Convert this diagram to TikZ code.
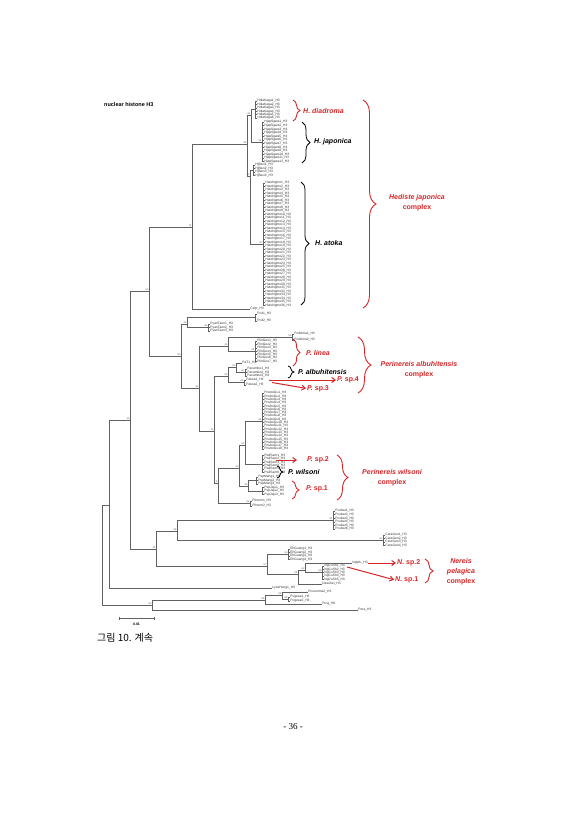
\documentclass[tikz,border=0pt]{standalone}
\usepackage{fontspec}
\setmainfont{Liberation Sans}
\newfontfamily\cjk{Noto Sans CJK KR}
\newfontfamily\pgserif{Liberation Serif}
\usetikzlibrary{decorations.pathreplacing,arrows.meta}
\definecolor{cred}{RGB}{214,38,40}
\tikzset{
  br/.style={draw=black!62, line width=0.45pt},
  leaf/.style={font=\fontsize{3.3}{3.4}\selectfont, inner sep=0.2pt, text=black!80},
  bs/.style={font=\fontsize{2.4}{2.6}\selectfont, inner sep=0.4pt, text=black!70},
  sp/.style={font=\fontsize{7}{8}\selectfont\bfseries\itshape, inner sep=0pt, anchor=west},
  cx/.style={font=\fontsize{7}{10}\selectfont\bfseries, inner sep=0pt, align=center, text=cred},
  rbr/.style={draw=cred, line width=0.9pt, decorate},
  kbr/.style={draw=black, line width=0.8pt, decorate},
  rar/.style={draw=cred, line width=1pt, shorten >=1pt, -{Straight Barb[length=3.5pt,width=5pt]}},
}
% #1 id, #2 x, #3 first y, #4 step, #5 count, #6 label prefix
\newcommand\leafset[6]{%
  \pgfmathsetmacro\lsEnd{#3+(#5-1)*#4}%
  \draw[br] (#2,#3) -- (#2,\lsEnd);%
  \coordinate (#1) at (#2,{(#3+\lsEnd)/2});%
  \foreach \k in {1,...,#5}{%
    \pgfmathsetmacro\lsY{#3+(\k-1)*#4}%
    \draw[br] (#2,\lsY) -- ++(2,0) node[leaf,anchor=west] (#1\k) {#6\k\_H3};%
  }%
}
\begin{document}
\begin{tikzpicture}[x=1pt,y=-1pt]
\fill[white] (0,0) rectangle (587,830);
\useasboundingbox (0,0) rectangle (587,830);

\node[font=\fontsize{5.5}{6}\selectfont\bfseries, anchor=west, inner sep=0pt] (title) at (104,105) {nuclear histone H3};

% internal nodes
\coordinate (r0) at (102,555);
\coordinate (n109) at (109,505);
\coordinate (n152) at (152,605);
\coordinate (n130) at (130,420);
\coordinate (n149) at (149,291);
\coordinate (n156) at (156,549);
\coordinate (n192) at (192,227);
\coordinate (n181) at (181,356);
\coordinate (n247) at (247,144);
\coordinate (n251) at (251,115);
\coordinate (n250) at (250,176);
\coordinate (n187) at (187,324);
\coordinate (n199) at (199,388);
\coordinate (n228a) at (228,346);
\coordinate (n214) at (214,431);
\coordinate (n228b) at (228,376);
\coordinate (n236) at (236,367);
\coordinate (n218) at (218,483);
\coordinate (n239) at (239,468);
\coordinate (n245) at (245,445);
\coordinate (n258) at (258,464);
\coordinate (n248) at (248,486);
\coordinate (n177) at (177,531);
\coordinate (n267) at (267,566);
\coordinate (n298) at (298,574);
\coordinate (n305) at (305,570);
\coordinate (n265) at (265,600);
\coordinate (n282) at (282,595);

% leaf sets
\leafset{dD}{255}{101}{3.4}{6}{HdiaKaga}
\leafset{dJ}{262}{122}{3.6}{12}{HjapSgwa}
\leafset{dB}{253}{165}{3.5}{4}{HjBaci}
\leafset{dA}{263}{183}{3.5}{36}{HatoNgmo}
\leafset{dPcd}{255}{314}{7}{2}{Pcd}
\leafset{dPy}{208}{324}{3.5}{3}{PyanTaen}
\leafset{dPa}{292}{334}{6}{2}{PcdAma}
\leafset{dPl}{255}{341}{3.4}{7}{PlinGeo}
\leafset{dPab}{245}{369}{3.5}{3}{Pacambo}
\leafset{dPs}{244}{380}{5}{2}{PaIwa}
\leafset{dBig}{262}{393}{3.3}{18}{PnuboGu}
\leafset{dW}{262}{455.5}{3.4}{6}{PwilSam}
\leafset{dSa}{256}{477}{3.4}{3}{PspMang}
\leafset{dSb}{262}{487.5}{3.4}{3}{PspJeju}
\leafset{dFr}{250}{501}{5}{2}{Pfrenm}
\leafset{dPo}{333}{511}{3.6}{6}{Pcubar}
\leafset{dCe}{383}{535}{3.5}{4}{CeraGeo}
\leafset{dEh}{288}{549}{3.5}{4}{EhGuang}
\leafset{dNe}{322}{566}{3.3}{5}{NgCuSh}
\leafset{dPc}{288}{597}{4}{2}{Pcgeae}

% branches
\draw[br] (r0) |- (n109);
\draw[br] (r0) |- (n152);
\draw[br] (n109) |- (n130);
\draw[br] (n109) |- (272,588) node[leaf,anchor=west] (lyca) {LycaHong1\_H3};
\draw[br] (n130) |- (n149);
\draw[br] (n130) |- (n156);
\draw[br] (n149) |- (n192);
\draw[br] (n149) |- (n181);
\draw[br] (n192) |- (n247);
\draw[br] (n192) |- (250,309) node[leaf,anchor=west] (cerp) {Cerp\_H3};
\draw[br] (n247) |- (n251);
\draw[br] (n247) |- (n250);
\draw[br] (n251) |- (dD);
\draw[br] (n251) |- (dJ);
\draw[br] (n250) |- (dB);
\draw[br] (n250) |- (dA);
\draw[br] (n181) |- (n187);
\draw[br] (n181) |- (n199);
\draw[br] (n187) |- (dPcd);
\draw[br] (n187) |- (dPy);
\draw[br] (n199) |- (n228a);
\draw[br] (n199) |- (n214);
\draw[br] (n228a) |- (dPa);
\draw[br] (n228a) |- (dPl);
\draw[br] (n214) |- (n228b);
\draw[br] (n214) |- (n218);
\draw[br] (n228b) |- (n236);
\draw[br] (n228b) |- (dPs);
\draw[br] (n236) |- (242,363) node[leaf,anchor=west] (pat1) {PaT1\_H3};
\draw[br] (n236) |- (dPab);
\draw[br] (n218) |- (n239);
\draw[br] (n218) |- (dFr);
\draw[br] (n239) |- (n245);
\draw[br] (n239) |- (n248);
\draw[br] (n245) |- (dBig);
\draw[br] (n245) |- (n258);
\draw[br] (n258) |- (dW);
\draw[br] (n248) |- (dSa);
\draw[br] (n248) |- (dSb);
\draw[br] (n156) |- (n177);
\draw[br] (n156) |- (n267);
\draw[br] (n177) |- (dPo);
\draw[br] (n177) |- (dCe);
\draw[br] (n267) |- (dEh);
\draw[br] (n267) |- (n298);
\draw[br] (n298) |- (n305);
\draw[br] (n298) |- (322,584) node[leaf,anchor=west] (nesu) {Nesuhei\_H3};
\draw[br] (n305) |- (352,563) node[leaf,anchor=west] (ngwu) {NgWu\_H3};
\draw[br] (n305) |- (dNe);
\draw[br] (n152) |- (n265);
\draw[br] (n152) |- (358,610) node[leaf,anchor=west] (pera) {Pera\_H3};
\draw[br] (n265) |- (n282);
\draw[br] (n265) |- (322,604) node[leaf,anchor=west] (prcg) {Prcg\_H0};
\draw[br] (n282) |- (308,592) node[leaf,anchor=west] (prcu) {Prcuonma2\_H3};
\draw[br] (n282) |- (dPc);

% bootstrap values
\foreach \c/\v in {n130/33, n149/50, n192/74, n181/60, n187/26, n199/34, n228a/43, n214/33,
  n218/9, n239/43, n245/21, n156/25, n177/58, n267/57, n152/83, n265/88, n282/88, n247/95,
  n251/64, n250/40, n228b/53, n236/53, n298/96, n305/63, n248/45, dPo/91, dCe/91, dBig/89,
  dPl/21, dPab/67, dPs/61, dA/97, dJ/61, dEh/63, dFr/92, dNe/99, dPc/88, dPy/84, dPa/93}
  \node[bs,anchor=south east] (bs-\c) at (\c) {\v};

% scale bar
\draw[br] (119,616.5) -- (119,619.5) (154,616.5) -- (154,619.5);
\draw[br] (119,618) -- (154,618);
\node[font=\fontsize{3.5}{4}\selectfont\bfseries, inner sep=0pt] (scl) at (136.5,624) {0.01};

% Hediste japonica complex
\draw[rbr, decoration={brace,amplitude=7pt}] (293,100) -- (293,121);
\node[sp, text=cred] (tdia) at (303,111) {H. diadroma};
\draw[kbr, decoration={brace,amplitude=8pt}] (302,122) -- (302,163);
\node[sp] (tjap) at (314,142) {H. japonica};
\draw[kbr, decoration={brace,amplitude=8pt}] (301,182) -- (301,305);
\node[sp] (tato) at (315,243) {H. atoka};
\draw[rbr, decoration={brace,amplitude=13pt}] (363,100) -- (363,308);
\node[cx] (cHed) at (417,203) {{\itshape Hediste japonica}\\complex};

% Perinereis albuhitensis complex
\draw[rbr, decoration={brace,amplitude=7pt}] (293,339) -- (293,366);
\node[sp, text=cred] (tlin) at (306,353) {P. linea};
\draw[kbr, decoration={brace,amplitude=6pt}] (288,366) -- (288,378);
\node[sp] (talb) at (298,372) {P. albuhitensis};
\coordinate (a4s) at (269,380);
\coordinate (a3s) at (272,382.5);
\node[sp, text=cred] (tsp4) at (337,380) {P. {\upshape sp.4}};
\node[sp, text=cred] (tsp3) at (307,388.5) {P. {\upshape sp.3}};
\draw[rar] (a4s) -- (tsp4.west);
\draw[rar] (a3s) -- (tsp3.west);
\draw[rbr, decoration={brace,amplitude=13pt}] (358,337) -- (358,393);
\node[cx] (cAlb) at (419,369.5) {{\itshape Perinereis albuhitensis}\\complex};

% Perinereis wilsoni complex
\coordinate (a2s) at (276,460);
\node[sp, text=cred] (tsp2) at (307,460) {P. {\upshape sp.2}};
\draw[rar] (a2s) -- ([xshift=-9pt]tsp2.west);
\draw[kbr, decoration={brace,amplitude=6pt}] (277,466) -- (277,478);
\node[sp] (twil) at (288,472) {P. wilsoni};
\draw[rbr, decoration={brace,amplitude=7pt}] (292,481) -- (292,499);
\node[sp, text=cred] (tsp1) at (306,489) {P. {\upshape sp.1}};
\draw[rbr, decoration={brace,amplitude=11pt}] (337,455) -- (337,500);
\node[cx] (cWil) at (392,477.5) {{\itshape Perinereis wilsoni}\\complex};

% Nereis pelagica complex
\node[sp, text=cred] (tns2) at (397,563) {N. {\upshape sp.2}};
\node[sp, text=cred] (tns1) at (395,580) {N. {\upshape sp.1}};
\draw[rar] (ngwu.east) -- (tns2.west);
\coordinate (a1s) at (347,567);
\draw[rar] (a1s) -- (tns1.west);
\draw[rbr, decoration={brace,amplitude=8pt}] (425,559) -- (425,583);
\node[cx] (cNer) at (461,572) {{\itshape Nereis}\\{\itshape pelagica}\\complex};

% caption and page number
\node[anchor=west, inner sep=0pt, font=\cjk\fontsize{10}{12}\selectfont] (cap) at (97,638) {그림 10. 계속};
\node[inner sep=0pt, font=\pgserif\fontsize{9}{11}\selectfont] (pg) at (293,727) {- 36 -};
\end{tikzpicture}
\end{document}
